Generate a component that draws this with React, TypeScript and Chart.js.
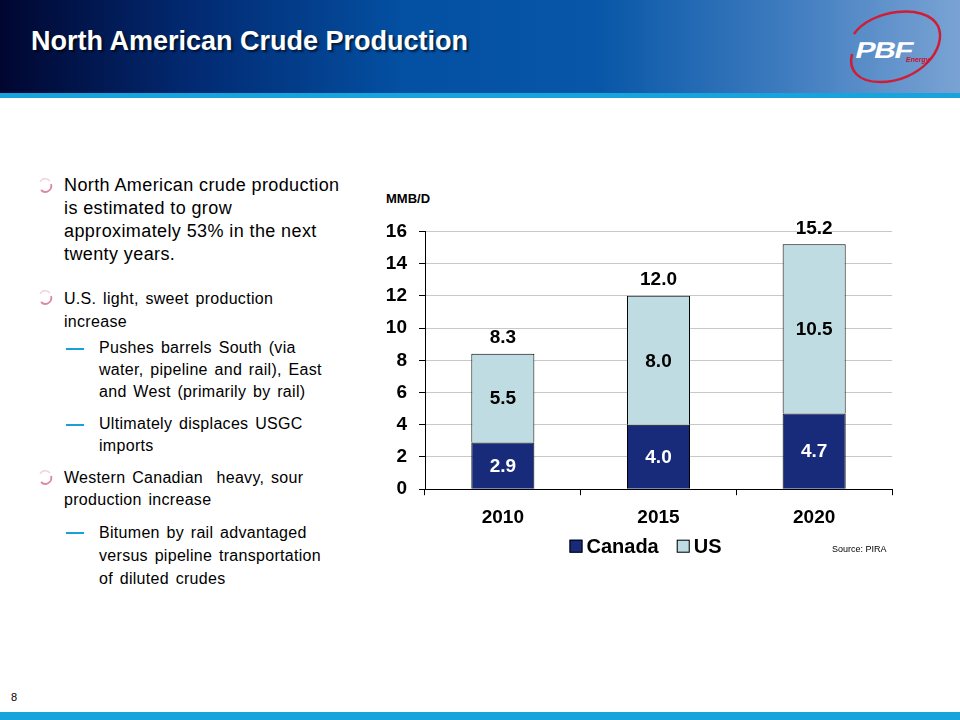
import React, { useEffect, useRef } from "react";
import { Chart, registerables } from "chart.js";

Chart.register(...registerables);

const categories = ["2010", "2015", "2020"];
const canadaValues = [2.9, 4.0, 4.7];
const usValues = [5.5, 8.0, 10.5];
const totalValues = [8.3, 12.0, 15.2];
const seriesNames = ["Canada", "US"];
const yMin = 0;
const yMax = 16;
const yStep = 2;

const FONT = '"Liberation Sans", Arial, sans-serif';

const labelPlugin = {
  id: "valueLabels",
  afterDatasetsDraw(chart: any) {
    const ctx = chart.ctx;
    ctx.save();
    ctx.font = `bold 19px ${FONT}`;
    ctx.textAlign = "center";
    ctx.textBaseline = "middle";
    chart.data.datasets.forEach((ds: any, di: number) => {
      const meta = chart.getDatasetMeta(di);
      meta.data.forEach((bar: any, i: number) => {
        const v = ds.data[i];
        const cy = (bar.y + bar.base) / 2;
        ctx.fillStyle = di === 0 ? "#ffffff" : "#000000";
        ctx.fillText(v.toFixed(1), bar.x, cy + 1);
      });
    });
    const lastMeta = chart.getDatasetMeta(chart.data.datasets.length - 1);
    lastMeta.data.forEach((bar: any, i: number) => {
      ctx.fillStyle = "#000000";
      ctx.fillText(totalValues[i].toFixed(1), bar.x, bar.y - 16);
    });
    ctx.restore();
  },
};

// Legend drawn below the x axis from the datasets' own labels and colours
const legendPlugin = {
  id: "bottomLegend",
  afterDraw(chart: any) {
    const ctx = chart.ctx;
    const area = chart.chartArea;
    ctx.save();
    ctx.font = `bold 20px ${FONT}`;
    ctx.textBaseline = "middle";
    ctx.textAlign = "left";
    const box = 13;
    const gapBoxText = 4;
    const gapItems = 18;
    const items = chart.data.datasets.map((ds: any) => ({
      text: ds.label,
      fill: ds.backgroundColor,
      w: box + gapBoxText + ctx.measureText(ds.label).width,
    }));
    const total =
      items.reduce((s: number, it: any) => s + it.w, 0) + gapItems * (items.length - 1);
    let x = (area.left + area.right) / 2 - 13 - total / 2;
    const cy = area.bottom + 57;
    items.forEach((it: any) => {
      ctx.fillStyle = it.fill;
      ctx.fillRect(x, cy - box / 2, box, box);
      ctx.strokeStyle = "#000";
      ctx.lineWidth = 1;
      ctx.strokeRect(x + 0.5, cy - box / 2 + 0.5, box - 1, box - 1);
      ctx.fillStyle = "#000";
      ctx.fillText(it.text, x + box + gapBoxText, cy + 1);
      x += it.w + gapItems;
    });
    ctx.restore();
  },
};

function BarChart() {
  const ref = useRef<HTMLCanvasElement | null>(null);
  useEffect(() => {
    if (!ref.current) return;
    const chart = new Chart(ref.current, {
      type: "bar",
      data: {
        labels: categories,
        datasets: [
          {
            label: seriesNames[0],
            data: canadaValues,
            backgroundColor: "#172b7a",
            borderColor: "#000000",
            borderWidth: 1,
            barPercentage: 0.405,
            categoryPercentage: 1,
          },
          {
            label: seriesNames[1],
            data: usValues,
            backgroundColor: "#bfdce3",
            borderColor: "#000000",
            borderWidth: 1,
            barPercentage: 0.405,
            categoryPercentage: 1,
          },
        ],
      },
      options: {
        animation: false,
        responsive: false,
        maintainAspectRatio: false,
        layout: { padding: { left: 0, right: 18, top: 16, bottom: 30 } },
        plugins: {
          tooltip: { enabled: false },
          legend: { display: false },
        },
        scales: {
          x: {
            stacked: true,
            grid: {
              display: true,
              drawOnChartArea: false,
              offset: true,
              tickLength: 6,
              tickColor: "#000",
            },
            border: { display: true, color: "#000", width: 1 },
            ticks: {
              color: "#000",
              padding: 11,
              font: { family: FONT, size: 19, weight: "bold" },
            },
          },
          y: {
            stacked: true,
            min: yMin,
            max: yMax,
            ticks: {
              stepSize: yStep,
              color: "#000",
              padding: 12,
              font: { family: FONT, size: 19, weight: "bold" },
            },
            grid: {
              color: "#c8c8c8",
              tickColor: "#000",
              tickLength: 6,
            },
            border: { display: true, color: "#000", width: 1 },
            afterFit(scale: any) {
              scale.width = 55;
            },
          },
        },
      },
      plugins: [labelPlugin, legendPlugin],
    } as any);
    return () => chart.destroy();
  }, []);
  return (
    <canvas
      ref={ref}
      width={540}
      height={362}
      style={{ position: "absolute", left: 370, top: 208, width: 540, height: 362 }}
    />
  );
}

function BulletIcon({ top }: { top: number }) {
  return (
    <svg
      width={16}
      height={16}
      style={{ position: "absolute", left: 37, top }}
      viewBox="0 0 16 16"
    >
      <path d="M3 5 A6 6 0 0 1 13 4" stroke="#f0d4dc" strokeWidth={1.5} fill="none" />
      <path d="M14 7 A6 6 0 0 1 4 13" stroke="#d98aa0" strokeWidth={1.8} fill="none" />
    </svg>
  );
}

function Dash({ top }: { top: number }) {
  return (
    <div
      style={{
        position: "absolute",
        left: 66,
        top,
        width: 18,
        height: 1.5,
        background: "#1aa0d8",
      }}
    />
  );
}

function Lines({
  left,
  top,
  size,
  lh,
  lines,
  ws,
  ls,
}: {
  left: number;
  top: number;
  size: number;
  lh: number;
  lines: string[];
  ws: number;
  ls: number;
}) {
  return (
    <div
      style={{
        position: "absolute",
        left,
        top,
        fontSize: size,
        lineHeight: `${lh}px`,
        color: "#000",
        whiteSpace: "pre",
        wordSpacing: ws,
        letterSpacing: ls,
        fontFamily: FONT,
      }}
    >
      {lines.map((l, i) => (
        <div key={i}>{l}</div>
      ))}
    </div>
  );
}

export default function App() {
  return (
    <div
      style={{
        position: "fixed",
        left: 0,
        top: 0,
        width: 960,
        height: 720,
        background: "#ffffff",
        overflow: "hidden",
        fontFamily: FONT,
      }}
    >
      {/* header */}
      <div
        style={{
          position: "absolute",
          left: 0,
          top: 0,
          width: 960,
          height: 93,
          background:
            "linear-gradient(to right, #010630 0%, #022a72 20%, #0450a2 42%, #0756a7 62%, #3f7cbf 82%, #7aa3d4 100%)",
        }}
      />
      <div
        style={{
          position: "absolute",
          left: 0,
          top: 93,
          width: 960,
          height: 5,
          background: "#17a3dc",
        }}
      />
      <div
        style={{
          position: "absolute",
          left: 31,
          top: 26,
          color: "#fff",
          fontWeight: "bold",
          fontSize: 27,
          lineHeight: "31px",
          whiteSpace: "nowrap",
          textShadow: "2px 2px 2px rgba(0,0,0,0.6)",
        }}
      >
        North American Crude Production
      </div>
      {/* logo */}
      <svg
        width={110}
        height={90}
        style={{ position: "absolute", left: 840, top: 4 }}
        viewBox="0 0 110 90"
      >
        <path
          d="M14 30 C 30 6, 85 -2, 98 22 C 108 44, 80 78, 40 78 C 18 78, 8 66, 12 50"
          stroke="#d01c34"
          strokeWidth={2.5}
          fill="none"
        />
        <g transform="translate(14 54) skewX(-14) scale(1.3 1)">
          <text
            x={0}
            y={0}
            fill="#ffffff"
            fontFamily={FONT}
            fontWeight="bold"
            fontSize={23}
            letterSpacing={-1}
          >
            PBF
          </text>
        </g>
        <text
          x={66}
          y={58}
          fill="#c8102e"
          fontFamily={FONT}
          fontWeight="bold"
          fontStyle="italic"
          fontSize={7}
        >
          Energy
        </text>
      </svg>

      {/* bullets */}
      <BulletIcon top={177} />
      <Lines
        left={64}
        top={174}
        size={18}
        lh={23}
        ws={0}
        ls={0.4}
        lines={[
          "North American crude production",
          "is estimated to grow",
          "approximately 53% in the next",
          "twenty years.",
        ]}
      />
      <BulletIcon top={289} />
      <Lines
        left={64}
        top={287}
        size={16}
        lh={23}
        ws={2}
        ls={0.3}
        lines={["U.S. light, sweet production", "increase"]}
      />
      <Dash top={348} />
      <Lines
        left={99}
        top={337}
        size={16}
        lh={22}
        ws={2}
        ls={0.3}
        lines={[
          "Pushes barrels South (via",
          "water, pipeline and rail), East",
          "and West (primarily by rail)",
        ]}
      />
      <Dash top={424} />
      <Lines
        left={99}
        top={413}
        size={16}
        lh={22}
        ws={2}
        ls={0.3}
        lines={["Ultimately displaces USGC", "imports"]}
      />
      <BulletIcon top={469} />
      <Lines
        left={64}
        top={467}
        size={16}
        lh={22}
        ws={2}
        ls={0.3}
        lines={["Western Canadian  heavy, sour", "production increase"]}
      />
      <Dash top={532} />
      <Lines
        left={99}
        top={521}
        size={16}
        lh={23}
        ws={2}
        ls={0.3}
        lines={[
          "Bitumen by rail advantaged",
          "versus pipeline transportation",
          "of diluted crudes",
        ]}
      />

      {/* chart */}
      <div
        style={{
          position: "absolute",
          left: 386,
          top: 191,
          fontSize: 13,
          fontWeight: "bold",
          color: "#000",
        }}
      >
        MMB/D
      </div>
      <BarChart />
      <div
        style={{
          position: "absolute",
          left: 832,
          top: 544,
          fontSize: 9,
          color: "#000",
          whiteSpace: "nowrap",
        }}
      >
        Source: PIRA
      </div>

      {/* footer */}
      <div
        style={{
          position: "absolute",
          left: 11,
          top: 691,
          fontSize: 11,
          color: "#000",
        }}
      >
        8
      </div>
      <div
        style={{
          position: "absolute",
          left: 0,
          top: 712,
          width: 960,
          height: 8,
          background: "#17a3dc",
        }}
      />
    </div>
  );
}
